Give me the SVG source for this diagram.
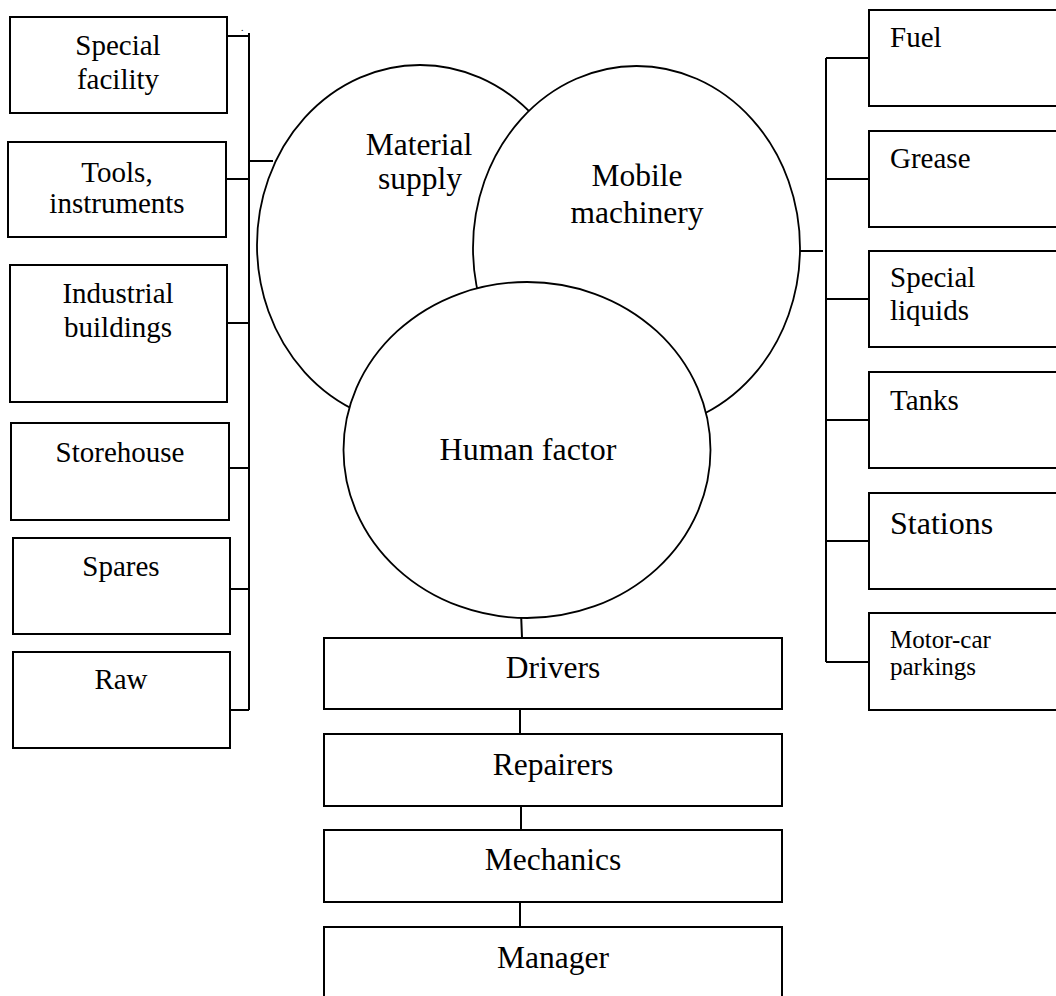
<svg xmlns="http://www.w3.org/2000/svg" width="1056" height="996" viewBox="0 0 1056 996">
<style>
.box{fill:#fff;stroke:#000;stroke-width:2}
.circ{fill:#fff;stroke:#000;stroke-width:1.8}
.ln{stroke:#000;stroke-width:2;fill:none}
text{font-family:"Liberation Serif","Times New Roman",serif;fill:#000}
.l{font-size:29px;text-anchor:middle}
.r{font-size:29px}
.c{font-size:31.5px;text-anchor:middle}
</style>
<rect width="1056" height="996" fill="#fff"/>
<g id="connectors">
<path class="ln" d="M249 33V710"/>
<path class="ln" d="M227 36H249M226 179H249M227 323H249M226 468H249M228 589H249M228 710H249M249 161H273"/>
<path class="ln" d="M826 58V662"/>
<path class="ln" d="M826 58H869M826 179H869M826 299H869M826 420H869M826 541H869M826 662H869M799 251H823"/>
<path class="ln" d="M521 612L522 638M520 709V734M521 806V830M520 902V927"/>
</g>
<g id="material-supply"><ellipse class="circ" cx="420" cy="245" rx="163" ry="180"/><text class="c" x="419" y="155">Material</text><text class="c" x="420" y="189">supply</text></g>
<g id="mobile-machinery"><ellipse class="circ" cx="636.5" cy="248" rx="163.5" ry="182"/><text class="c" x="637" y="186">Mobile</text><text class="c" x="637" y="223">machinery</text></g>
<g id="human-factor"><ellipse class="circ" cx="527" cy="450" rx="183.5" ry="168"/><text class="c" x="528" y="460" style="font-size:32px">Human factor</text></g>
<g id="special-facility"><rect class="box" x="10" y="17" width="217" height="96"/><text class="l" x="118" y="55">Special</text><text class="l" x="118" y="89">facility</text></g>
<text x="241" y="31" style="font-size:10px">.</text>
<g id="tools"><rect class="box" x="8" y="142" width="218" height="95"/><text class="l" x="117" y="182">Tools,</text><text class="l" x="117" y="213">instruments</text></g>
<g id="industrial-buildings"><rect class="box" x="10" y="265" width="217" height="137"/><text class="l" x="118" y="303">Industrial</text><text class="l" x="118" y="337">buildings</text></g>
<g id="storehouse"><rect class="box" x="11" y="423" width="218" height="97"/><text class="l" x="120" y="462">Storehouse</text></g>
<g id="spares"><rect class="box" x="13" y="538" width="217" height="96"/><text class="l" x="121" y="576">Spares</text></g>
<g id="raw"><rect class="box" x="13" y="652" width="217" height="96"/><text class="l" x="121" y="689">Raw</text></g>
<g id="fuel"><rect class="box" x="869" y="10" width="200" height="96"/><text class="r" x="890" y="47">Fuel</text></g>
<g id="grease"><rect class="box" x="869" y="131" width="200" height="96"/><text class="r" x="890" y="168">Grease</text></g>
<g id="special-liquids"><rect class="box" x="869" y="251" width="200" height="96"/><text class="r" x="890" y="287">Special</text><text class="r" x="890" y="320">liquids</text></g>
<g id="tanks"><rect class="box" x="869" y="372" width="200" height="96"/><text class="r" x="890" y="410">Tanks</text></g>
<g id="stations"><rect class="box" x="869" y="493" width="200" height="96"/><text class="r" x="890" y="534" style="font-size:32px">Stations</text></g>
<g id="motor-car-parkings"><rect class="box" x="869" y="613" width="200" height="97"/><text class="r" x="890" y="648" style="font-size:25px">Motor-car</text><text class="r" x="890" y="675" style="font-size:25px">parkings</text></g>
<g id="drivers"><rect class="box" x="324" y="638" width="458" height="71"/><text class="c" x="553" y="678">Drivers</text></g>
<g id="repairers"><rect class="box" x="324" y="734" width="458" height="72"/><text class="c" x="553" y="775">Repairers</text></g>
<g id="mechanics"><rect class="box" x="324" y="830" width="458" height="72"/><text class="c" x="553" y="870">Mechanics</text></g>
<g id="manager"><rect class="box" x="324" y="927" width="458" height="80"/><text class="c" x="553" y="968">Manager</text></g>
</svg>
